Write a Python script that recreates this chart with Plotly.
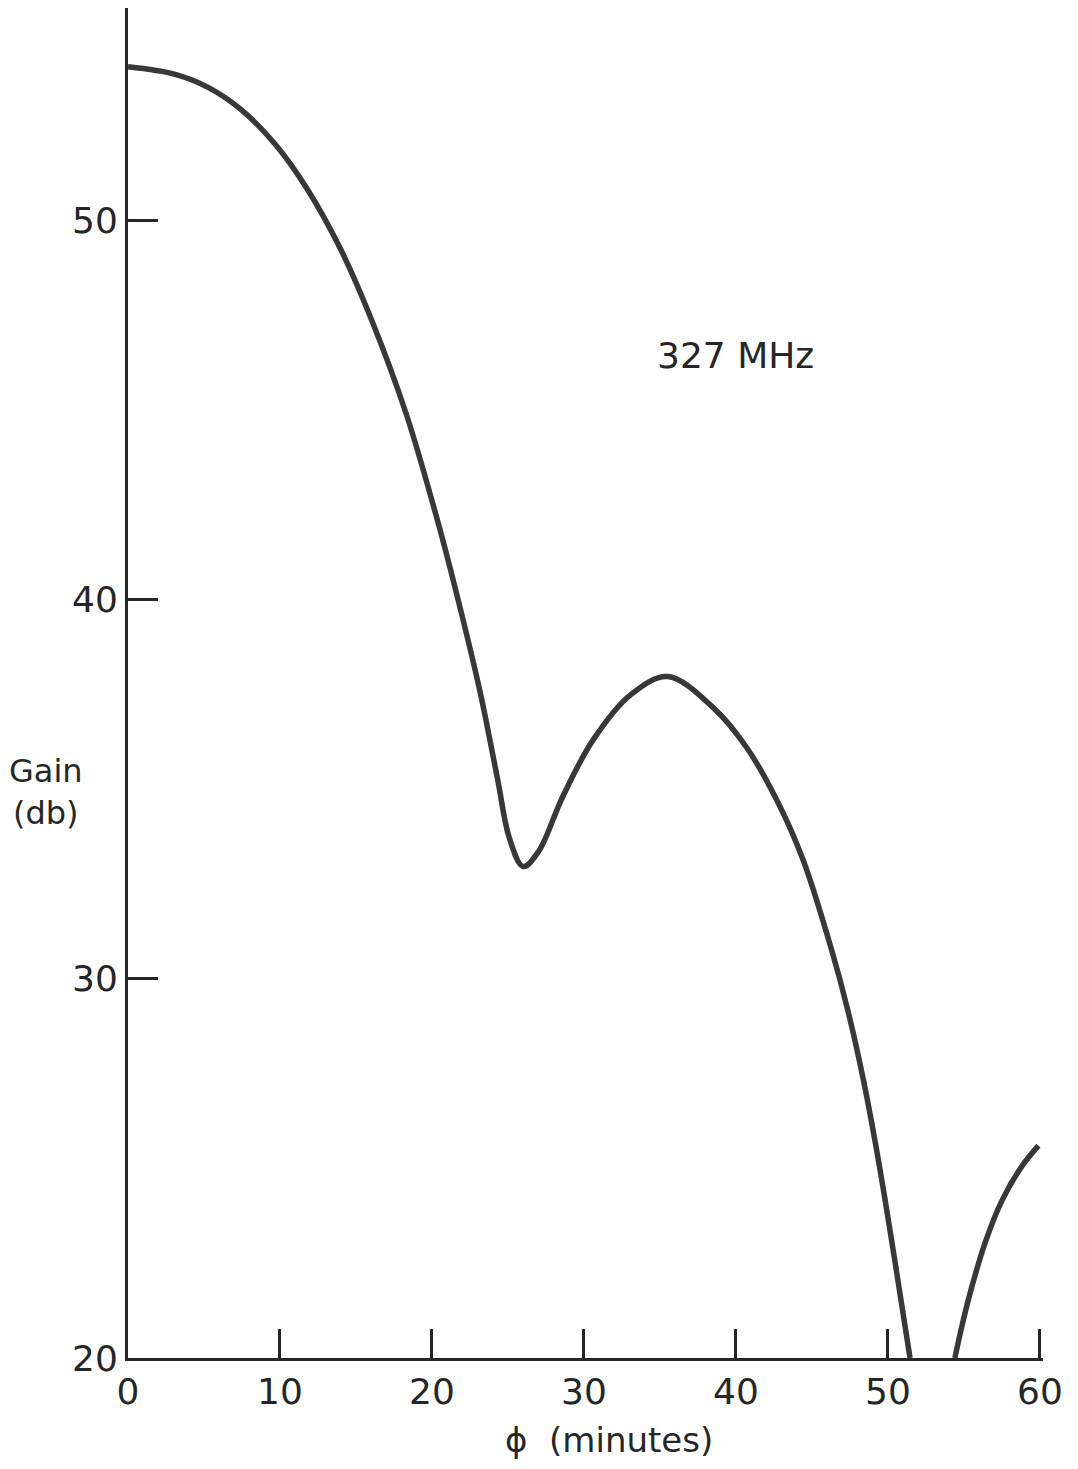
import plotly.graph_objects as go

# Main lobe + first sidelobe (phi in minutes, gain in dB)
phi_main = [0, 3.1, 5.3, 7.5, 9.7, 11.8, 14.0, 16.1, 18.3, 20.4,
            21.9, 23.2, 24.3, 25.1, 26.0, 27.0, 28.6, 30.6, 33.1, 35.5,
            38.5, 40.7, 42.7, 44.4, 46.3, 47.4, 48.4, 49.4, 50.4, 51.45]
gain_main = [54.05, 53.85, 53.5, 52.9, 52.0, 50.82, 49.23, 47.3, 44.9, 42.03,
             39.7, 37.5, 35.3, 33.7, 32.96, 33.35, 34.8, 36.3, 37.5, 37.97,
             37.15, 36.1, 34.7, 33.15, 30.75, 29.1, 27.3, 25.15, 22.7, 20.0]

# Second sidelobe
phi_side = [54.4, 54.9, 55.5, 56.4, 57.5, 58.8, 59.9]
gain_side = [20.0, 20.9, 21.85, 23.05, 24.15, 25.05, 25.6]

x_ticks = [0, 10, 20, 30, 40, 50, 60]
y_ticks = [20, 30, 40, 50]

FONT = "DejaVu Sans"
INK = "#262626"
CURVE = "#383838"

fig = go.Figure()
fig.add_trace(go.Scatter(x=phi_main, y=gain_main, mode="lines",
                         line=dict(color=CURVE, width=5.5, shape="spline", smoothing=1.0),
                         showlegend=False, hoverinfo="skip"))
fig.add_trace(go.Scatter(x=phi_side, y=gain_side, mode="lines",
                         line=dict(color=CURVE, width=5.5, shape="spline", smoothing=1.0),
                         showlegend=False, hoverinfo="skip"))

fig.update_layout(
    width=1078, height=1469,
    margin=dict(l=120, r=43, t=0, b=119, autoexpand=False),
    paper_bgcolor="white", plot_bgcolor="white",
    font=dict(family=FONT, color=INK),
    showlegend=False,
)

fig.update_xaxes(
    range=[0, 60.2], showgrid=False, zeroline=False, automargin=False,
    showline=True, linecolor=INK, linewidth=3,
    tickmode="array", tickvals=x_ticks, ticktext=[str(v) for v in x_ticks],
    ticks="inside", ticklen=29, tickwidth=3, tickcolor=INK,
    tickfont=dict(size=36, family=FONT, color=INK),
    ticklabelstandoff=0,
)
fig.update_yaxes(
    range=[20, 55.6], showgrid=False, zeroline=False, automargin=False,
    showline=True, linecolor=INK, linewidth=3,
    tickmode="array", tickvals=y_ticks, ticktext=[str(v) for v in y_ticks],
    ticks="inside", ticklen=30, tickwidth=3, tickcolor=INK,
    tickfont=dict(size=36, family=FONT, color=INK),
    ticklabelstandoff=0,
)

fig.add_annotation(x=40.0, y=46.44, xref="x", yref="y", text="327 MHz",
                   xanchor="center", yanchor="middle",
                   showarrow=False, font=dict(size=36, family=FONT, color=INK))
fig.add_annotation(x=0.5, y=0, xref="paper", yref="paper", yshift=-82, xshift=23,
                   xanchor="center", yanchor="middle",
                   text="\u03d5  (minutes)", showarrow=False,
                   font=dict(size=34, family=FONT, color=INK))
fig.add_annotation(x=0, y=34.93, xref="paper", yref="y", xshift=-82,
                   xanchor="center", yanchor="middle",
                   text="Gain<br>(db)", showarrow=False, align="center",
                   font=dict(size=32, family=FONT, color=INK))

fig.write_html("out.html")
